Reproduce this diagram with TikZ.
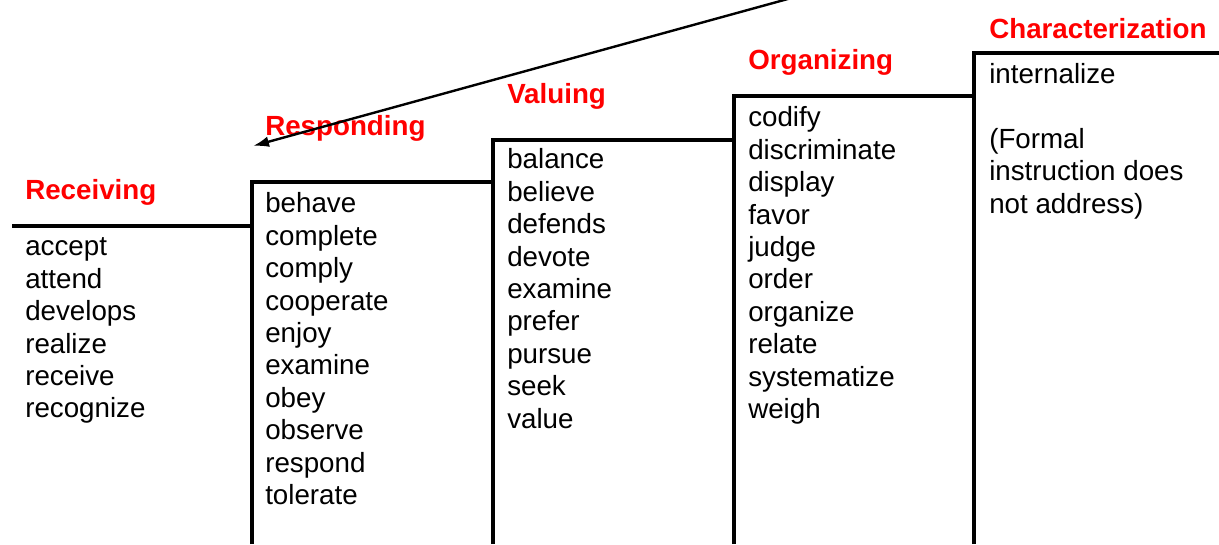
\documentclass[tikz,border=0pt]{standalone}
\usepackage{fontspec}
\setmainfont{Liberation Sans}
\usepackage{xcolor}
\usetikzlibrary{arrows.meta}

\definecolor{headred}{RGB}{255,0,0}

\tikzset{
  stair/.style={line width=2.6pt, line join=miter},
  headlabel/.style={anchor=base west, inner sep=0pt, font=\fontsize{20.8}{24.3}\selectfont\bfseries, text=headred},
  verblist/.style={anchor=north west, inner sep=0pt, align=left, font=\fontsize{20.8}{24.3}\selectfont}
}

\begin{document}
\begin{tikzpicture}[x=0.75pt,y=0.75pt,yscale=-1,xscale=1]
\useasboundingbox (0,0) rectangle (1219,544);
%Stair corners
\coordinate (s0) at (12,226);
\coordinate (s1) at (252,226);
\coordinate (c1) at (252,182);
\coordinate (c2) at (493,140);
\coordinate (c3) at (734,96);
\coordinate (c4) at (974,53);
\coordinate (s5) at (1219,53);
%Straight Lines 
\draw [stair]  (s0) -- (s1) ;
\draw [stair]  (252,544) -- (c1) -- (c1 -| c2) ;
\draw [stair]  (493,544) -- (c2) -- (c2 -| c3) ;
\draw [stair]  (734,544) -- (c3) -- (c3 -| c4) ;
\draw [stair]  (974,544) -- (c4) -- (s5) ;
% Text Node
\draw (25,199) node [headlabel] (recv) {Receiving};
% Text Node
\draw (265,135) node [headlabel] (resp) {Responding};
% Text Node
\draw (507,103) node [headlabel] (valu) {Valuing};
% Text Node
\draw (748,69) node [headlabel] (orga) {Organizing};
% Text Node
\draw (989,38) node [headlabel] (char) {Characterization};
% Text Node
\draw (25,233) node [verblist] (recvlist) {\strut accept\\attend\\develops\\realize\\receive\\recognize};
% Text Node
\draw (265,190) node [verblist] (resplist) {\strut behave\\complete\\comply\\cooperate\\enjoy\\examine\\obey\\observe\\respond\\tolerate};
% Text Node
\draw (507,146) node [verblist] (valulist) {\strut balance\\believe\\defends\\devote\\examine\\prefer\\pursue\\seek\\value};
% Text Node
\draw (748,104) node [verblist] (orgalist) {\strut codify\\discriminate\\display\\favor\\judge\\order\\organize\\relate\\systematize\\weigh};
% Text Node
\draw (989,60.5) node [verblist] (charlist) {\strut internalize\\[24.3pt](Formal\\instruction does\\not address)};
%Arrow
\coordinate (arrowfrom) at (795,-3);
\coordinate (arrowto) at (253,146);
\draw [line width=1.8pt, -{Latex[length=12pt,width=8pt]}]  (arrowfrom) -- (arrowto) ;
\end{tikzpicture}
\end{document}
